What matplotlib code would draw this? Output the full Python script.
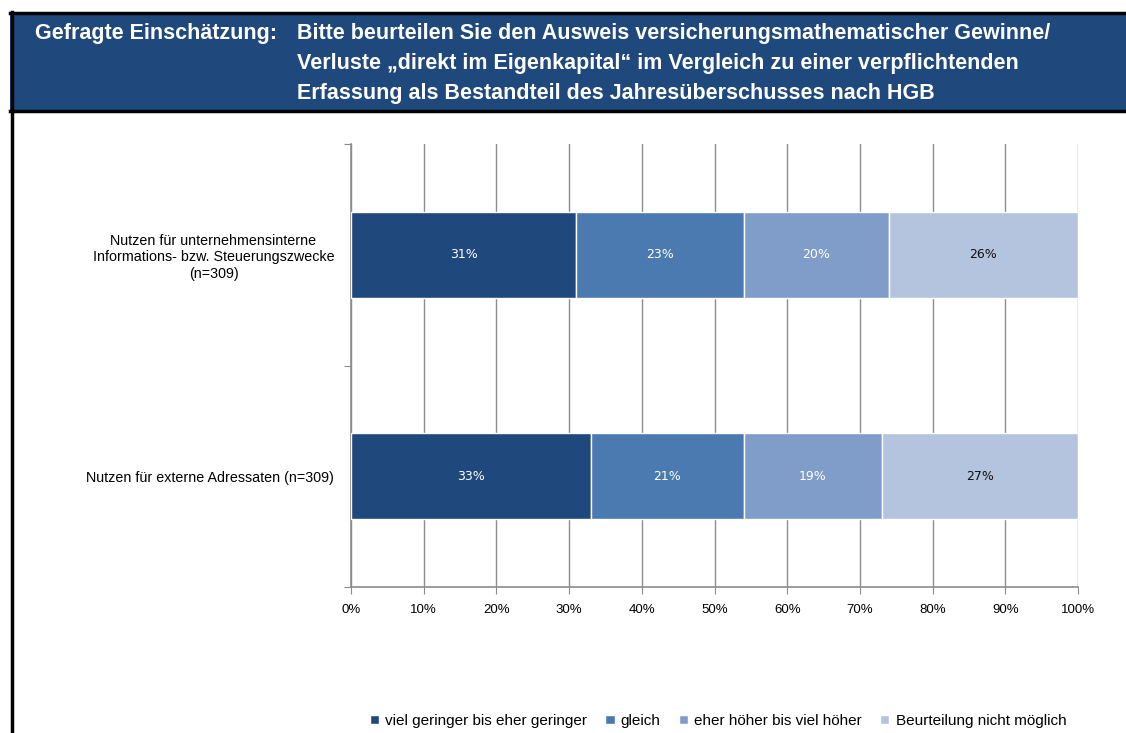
import numpy as np
import matplotlib
matplotlib.use("Agg")
import matplotlib.pyplot as plt
from matplotlib.patches import Rectangle
from matplotlib.lines import Line2D

plt.rcParams['font.family'] = ['Liberation Sans', 'DejaVu Sans']

categories = ["Nutzen für unternehmensinterne\nInformations- bzw. Steuerungszwecke\n(n=309)",
              "Nutzen für externe Adressaten (n=309)"]
series = ["viel geringer bis eher geringer", "gleich",
          "eher höher bis viel höher", "Beurteilung nicht möglich"]
intern = [31, 23, 20, 26]
extern = [33, 21, 19, 27]
colors = ["#1f487c", "#4a7ab0", "#7f9dc8", "#b5c4de"]
label_colors = ["white", "white", "white", "#111111"]
ticks = np.arange(0, 101, 10)
tick_labels = [f"{t}%" for t in ticks]

W, H = 1126, 733
fig = plt.figure(figsize=(W / 100, H / 100), dpi=100)

# header band with frame
fig.add_artist(Rectangle((10 / W, 1 - 112 / H), 1 - 10 / W, 100 / H,
                         transform=fig.transFigure, facecolor="#1f487c",
                         edgecolor="none", zorder=0))
for yy in (13, 111):
    fig.add_artist(Line2D([10 / W, 1], [1 - yy / H] * 2, transform=fig.transFigure,
                          color="black", lw=2.5))
fig.add_artist(Line2D([11.5 / W] * 2, [1 - 12 / H, 0], transform=fig.transFigure,
                      color="black", lw=2.5))

hdr = dict(color="white", fontsize=15.5, fontweight="bold", va="center", ha="left")
fig.text(35 / W, 1 - 33 / H, "Gefragte Einschätzung:", **hdr)
fig.text(297 / W, 1 - 33 / H, "Bitte beurteilen Sie den Ausweis versicherungsmathematischer Gewinne/", **hdr)
fig.text(297 / W, 1 - 63 / H, "Verluste \u201edirekt im Eigenkapital\u201c im Vergleich zu einer verpflichtenden", **hdr)
fig.text(297 / W, 1 - 93 / H, "Erfassung als Bestandteil des Jahresüberschusses nach HGB", **hdr)

ax = fig.add_axes([351 / W, 1 - 587 / H, 727 / W, 443 / H])
data = np.array([intern, extern])
ypos = [1.5, 0.5]
left = np.zeros(2)
for j in range(len(series)):
    vals = data[:, j]
    ax.barh(ypos, vals, left=left, height=0.39, color=colors[j],
            edgecolor="white", linewidth=1, label=series[j], zorder=3)
    for i in range(2):
        ax.text(left[i] + vals[i] / 2, ypos[i], f"{vals[i]}%", ha="center", va="center",
                color=label_colors[j], fontsize=9, family="DejaVu Sans", zorder=4)
    left += vals

ax.set_xlim(0, 100)
ax.set_ylim(0, 2)
ax.set_xticks(ticks)
ax.set_xticklabels(tick_labels, fontsize=9.5)
ax.set_yticks([0, 1, 2])
ax.set_yticklabels([])
ax.set_yticks(ypos, minor=True)
ax.set_yticklabels(categories, minor=True, fontsize=10.3, ha="right", multialignment="center")
ax.tick_params(axis="y", which="minor", length=0, pad=12)
ax.tick_params(axis="y", which="major", length=5, color="#8c8c8c")
ax.tick_params(axis="x", length=5, color="#8c8c8c", pad=7)
ax.grid(axis="x", color="#8c8c8c", lw=1, zorder=0)
for s in ("top", "right"):
    ax.spines[s].set_visible(False)
for s in ("left", "bottom"):
    ax.spines[s].set_color("#8c8c8c")
    ax.spines[s].set_linewidth(1.2)

handles, labels = ax.get_legend_handles_labels()
fig.legend(handles, labels, loc="center", bbox_to_anchor=(718 / W, 1 - 721 / H), ncol=4,
           frameon=False, fontsize=11, handlelength=0.6, handleheight=0.6,
           handletextpad=0.4, columnspacing=1.2)

fig.savefig("out.png", dpi=100)
